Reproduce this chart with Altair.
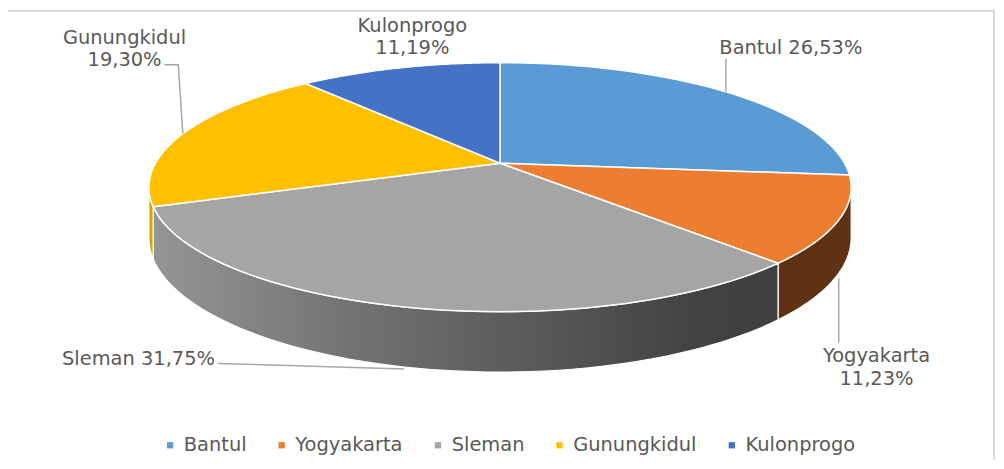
import altair as alt

# ---------------- data ----------------
labels = ["Bantul", "Yogyakarta", "Sleman", "Gunungkidul", "Kulonprogo"]
values = [26.53, 11.23, 31.75, 19.30, 11.19]
top_colors = ["#5B9BD5", "#ED7D31", "#A5A5A5", "#FFC000", "#4472C4"]

# ---------------- layout / style ----------------
W, H = 992, 452                 # svg plot area; page margin is 8px
XD = [8, 8 + W]                 # scale domains expressed in page pixels
YD = [8, 8 + H]
CX, CY, RX, RY, P, DEPTH = 502, 163, 346, 120.4, 0.192, 49   # 3-D pie geometry
N = 60                          # points per arc
FONT = "DejaVu Sans"
FS = 19.5
TXT = "#595959"

side_fill = {
    "Bantul": "#3B6E9C",
    "Yogyakarta": "#5E3213",
    "Sleman": alt.LinearGradient(
        gradient="linear", x1=0, x2=1, y1=0, y2=0,
        stops=[alt.GradientStop(color="#959595", offset=0),
               alt.GradientStop(color="#727272", offset=0.32),
               alt.GradientStop(color="#5e5e5e", offset=0.55),
               alt.GradientStop(color="#434343", offset=0.86),
               alt.GradientStop(color="#3f3f3f", offset=1)]),
    "Gunungkidul": "#D9A300",
    "Kulonprogo": "#2E518F",
}

# ty = y of the first text line
label_layout = {
    "Bantul":      dict(tx=794, ty=47,  two=False, side=0, gap=0, lx=[None, None],      ly=[None, 58]),
    "Yogyakarta":  dict(tx=880, ty=357, two=True,  side=1, gap=5, lx=[None, None],      ly=[None, 343]),
    "Sleman":      dict(tx=139, ty=360, two=False, side=1, gap=2, lx=[None, 219],       ly=[None, 364]),
    "Gunungkidul": dict(tx=125, ty=37,  two=True,  side=0, gap=0, lx=[None, 179, 165],  ly=[None, 64, 64]),
    "Kulonprogo":  dict(tx=414, ty=25,  two=True,  side=0, gap=0, lx=[],                ly=[]),
}

records = []
for k, (name, val) in enumerate(zip(labels, values)):
    lay = label_layout[name]
    pct = f"{val:.2f}".replace(".", ",") + "%"
    records.append(dict(
        label=name, value=val, idx=k,
        text=name + ("\n" if lay["two"] else " ") + pct,
        tx=lay["tx"], ty=lay["ty"], side=lay["side"], gap=lay["gap"],
        lk=list(range(len(lay["lx"]))), lx=lay["lx"], ly=lay["ly"],
    ))

xs = alt.Scale(domain=XD, nice=False, zero=False)
ys = alt.Scale(domain=YD, nice=False, zero=False, reverse=True)


def base():
    return (alt.Chart()
            .transform_window(cum="sum(value)", sort=[alt.SortField("idx")], frame=[None, 0])
            .transform_joinaggregate(total="sum(value)")
            .transform_calculate(a0="2*PI*(datum.cum - datum.value)/datum.total")
            .transform_calculate(a1="2*PI*datum.cum/datum.total"))


# ---- frame ----
frame = alt.Chart(alt.InlineData(values=[{}])).mark_rect(
    filled=False, color="#d9d9d9", strokeWidth=2
).encode(x=alt.value(-1), x2=alt.value(990), y=alt.value(2), y2=alt.value(480))

# ---- sides ----
side_layers = []
for name in labels:
    s = (base()
         .transform_filter(alt.datum.label == name)
         .transform_calculate(s0=f"max(datum.a0, PI - acos({P}))")
         .transform_calculate(s1=f"min(datum.a1, PI + acos({P}))")
         .transform_filter("datum.s1 > datum.s0")
         .transform_calculate(pts=f"sequence(0, {2 * N + 2})")
         .transform_flatten(["pts"], as_=["i"])
         .transform_calculate(kk=f"datum.i <= {N} ? datum.i : {2 * N + 1} - datum.i")
         .transform_calculate(a=f"datum.s0 + (datum.s1 - datum.s0) * datum.kk / {N}")
         .transform_calculate(w=f"1/(1 + {P}*cos(datum.a))")
         .transform_calculate(px=f"{CX} + {RX}*sin(datum.a)*datum.w")
         .transform_calculate(py=f"{CY} - {RY}*cos(datum.a)*datum.w + (datum.i > {N} ? {DEPTH}*datum.w : 0)")
         .mark_line(filled=True, interpolate="linear-closed", fill=side_fill[name],
                    stroke="white", strokeWidth=1.2)
         .encode(x=alt.X("px:Q", scale=xs, axis=None),
                 y=alt.Y("py:Q", scale=ys, axis=None),
                 order=alt.Order("i:Q")))
    side_layers.append(s)

# ---- top faces ----
top = (base()
       .transform_calculate(pts=f"sequence(0, {N + 2})")
       .transform_flatten(["pts"], as_=["i"])
       .transform_calculate(a=f"datum.a0 + (datum.a1 - datum.a0) * min(datum.i, {N}) / {N}")
       .transform_calculate(r=f"datum.i > {N} ? 0 : 1")
       .transform_calculate(w=f"1/(1 + {P}*datum.r*cos(datum.a))")
       .transform_calculate(px=f"{CX} + {RX}*datum.r*sin(datum.a)*datum.w")
       .transform_calculate(py=f"{CY} - {RY}*datum.r*cos(datum.a)*datum.w")
       .mark_line(filled=True, interpolate="linear-closed", stroke="white",
                  strokeWidth=1.5, strokeJoin="round")
       .encode(
           x=alt.X("px:Q", scale=xs, axis=None),
           y=alt.Y("py:Q", scale=ys, axis=None),
           order=alt.Order("i:Q"),
           color=alt.Color("label:N",
                           scale=alt.Scale(domain=labels, range=top_colors),
                           sort=labels,
                           legend=alt.Legend(
                               orient="none", legendX=153, legendY=428,
                               direction="horizontal", columns=5, title=None,
                               symbolType="square", symbolSize=40,
                               symbolStrokeWidth=0, labelOffset=4,
                               columnPadding=25, padding=0,
                               labelFont=FONT, labelFontSize=FS,
                               labelColor=TXT))))

# ---- leader lines ----
leaders = (base()
           .transform_calculate(am="(datum.a0 + datum.a1)/2")
           .transform_calculate(aw=f"1/(1 + {P}*cos(datum.am))")
           .transform_calculate(ax=f"{CX} + {RX}*sin(datum.am)*datum.aw")
           .transform_calculate(ay=f"{CY} - {RY}*cos(datum.am)*datum.aw + datum.side*{DEPTH}*datum.aw + datum.gap")
           .transform_flatten(["lk", "lx", "ly"])
           .transform_calculate(px="isValid(datum.lx) ? datum.lx : datum.ax")
           .transform_calculate(py="isValid(datum.ly) ? datum.ly : datum.ay")
           .mark_line(color="#a6a6a6", strokeWidth=1.5)
           .encode(x=alt.X("px:Q", scale=xs, axis=None),
                   y=alt.Y("py:Q", scale=ys, axis=None),
                   detail="label:N",
                   order=alt.Order("lk:Q")))

# ---- data labels ----
texts = (alt.Chart()
         .mark_text(font=FONT, fontSize=FS, color=TXT, lineBreak="\n",
                    align="center", baseline="middle", lineHeight=22.5)
         .encode(x=alt.X("tx:Q", scale=xs, axis=None),
                 y=alt.Y("ty:Q", scale=ys, axis=None),
                 text="text:N"))

chart = (alt.layer(frame, *side_layers, top, leaders, texts,
                   data=alt.InlineData(values=records))
         .properties(width=W, height=H, padding=0,
                     autosize=alt.AutoSizeParams(type="none"),
                     background="white")
         .configure_view(strokeWidth=0))

chart.save("out.html", embed_options={"renderer": "svg", "actions": False})
